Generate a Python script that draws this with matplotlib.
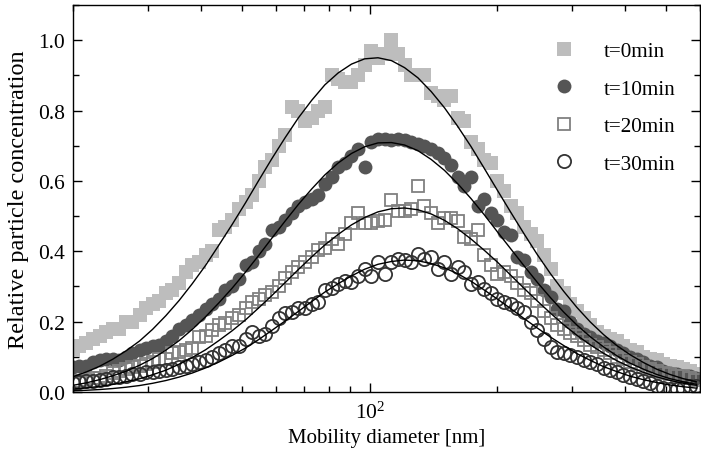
import matplotlib

matplotlib.use("Agg")
import matplotlib.pyplot as plt
from matplotlib.ticker import FormatStrFormatter, LogLocator, MultipleLocator, NullFormatter

# SMPS channel midpoints [nm]
DIAMETER_NM = [
    20.0, 20.7, 21.5, 22.3, 23.1, 23.9, 24.8, 25.7, 26.7, 27.6,
    28.7, 29.7, 30.8, 31.9, 33.1, 34.3, 35.6, 36.9, 38.2, 39.6,
    41.1, 42.6, 44.1, 45.7, 47.4, 49.2, 51.0, 52.8, 54.8, 56.8,
    58.8, 61.0, 63.2, 65.6, 67.9, 70.4, 73.0, 75.7, 78.4, 81.3,
    84.3, 87.4, 90.6, 93.9, 97.3, 100.9, 104.6, 108.4, 112.5, 116.6,
    120.8, 125.3, 129.9, 134.6, 139.6, 144.7, 150.0, 155.5, 161.2, 167.1,
    173.2, 179.6, 186.1, 193.0, 200.0, 207.3, 214.9, 222.8, 230.9, 239.4,
    248.1, 257.2, 266.7, 276.4, 286.5, 297.0, 307.9, 319.2, 330.9, 343.0,
    355.7, 368.6, 382.1, 396.1, 410.6, 425.6, 441.2, 457.4, 474.1, 491.5,
    509.5, 528.2, 547.5, 567.6, 588.4,
]

CONC_T0 = [
    0.12, 0.13, 0.14, 0.15, 0.16, 0.17, 0.18, 0.18, 0.20, 0.20,
    0.22, 0.24, 0.25, 0.26, 0.28, 0.29, 0.31, 0.34, 0.36, 0.37,
    0.39, 0.40, 0.46, 0.47, 0.49, 0.52, 0.54, 0.56, 0.60, 0.64,
    0.66, 0.70, 0.73, 0.81, 0.80, 0.77, 0.78, 0.80, 0.81, 0.90,
    0.89, 0.88, 0.88, 0.90, 0.93, 0.97, 0.95, 0.96, 1.00, 0.96,
    0.93, 0.90, 0.90, 0.90, 0.85, 0.84, 0.83, 0.84, 0.78, 0.77,
    0.71, 0.69, 0.66, 0.65, 0.60, 0.57, 0.53, 0.51, 0.47, 0.45,
    0.43, 0.39, 0.35, 0.30, 0.28, 0.25, 0.23, 0.21, 0.19, 0.17,
    0.16, 0.15, 0.145, 0.13, 0.12, 0.115, 0.10, 0.095, 0.09, 0.08,
    0.075, 0.07, 0.065, 0.06, 0.05,
]

CONC_T10 = [
    0.07, 0.075, 0.075, 0.085, 0.09, 0.095, 0.095, 0.09, 0.10, 0.11,
    0.12, 0.125, 0.13, 0.135, 0.145, 0.16, 0.18, 0.19, 0.205, 0.22,
    0.235, 0.25, 0.265, 0.29, 0.30, 0.32, 0.36, 0.37, 0.40, 0.42,
    0.46, 0.47, 0.49, 0.51, 0.53, 0.54, 0.55, 0.56, 0.59, 0.61,
    0.64, 0.65, 0.67, 0.69, 0.64, 0.71, 0.72, 0.72, 0.715, 0.72,
    0.715, 0.71, 0.705, 0.70, 0.69, 0.68, 0.665, 0.645, 0.61, 0.585,
    0.61, 0.53, 0.55, 0.51, 0.49, 0.455, 0.445, 0.385, 0.375, 0.34,
    0.32, 0.29, 0.27, 0.235, 0.23, 0.20, 0.18, 0.165, 0.155, 0.145,
    0.14, 0.13, 0.12, 0.11, 0.10, 0.095, 0.085, 0.075, 0.07, 0.06,
    0.055, 0.05, 0.045, 0.045, 0.04,
]

CONC_T20 = [
    0.03, 0.03, 0.035, 0.04, 0.04, 0.045, 0.055, 0.06, 0.065, 0.07,
    0.075, 0.08, 0.085, 0.095, 0.095, 0.11, 0.115, 0.12, 0.125, 0.155,
    0.16, 0.175, 0.19, 0.195, 0.21, 0.22, 0.24, 0.255, 0.265, 0.275,
    0.285, 0.30, 0.325, 0.34, 0.355, 0.37, 0.385, 0.405, 0.41, 0.435,
    0.42, 0.45, 0.48, 0.51, 0.48, 0.48, 0.485, 0.49, 0.545, 0.515,
    0.515, 0.52, 0.585, 0.53, 0.51, 0.48, 0.495, 0.495, 0.485, 0.44,
    0.435, 0.46, 0.39, 0.36, 0.335, 0.34, 0.33, 0.31, 0.29, 0.28,
    0.26, 0.23, 0.21, 0.19, 0.178, 0.167, 0.158, 0.148, 0.135, 0.127,
    0.12, 0.11, 0.10, 0.095, 0.085, 0.08, 0.07, 0.065, 0.06, 0.055,
    0.05, 0.045, 0.045, 0.04, 0.035,
]

CONC_T30 = [
    0.025, 0.028, 0.03, 0.031, 0.035, 0.038, 0.042, 0.044, 0.045, 0.05,
    0.052, 0.056, 0.058, 0.06, 0.062, 0.066, 0.07, 0.074, 0.08, 0.085,
    0.09, 0.10, 0.11, 0.118, 0.13, 0.13, 0.15, 0.17, 0.16, 0.165,
    0.188, 0.21, 0.225, 0.228, 0.24, 0.238, 0.25, 0.255, 0.29, 0.295,
    0.307, 0.315, 0.313, 0.33, 0.35, 0.33, 0.37, 0.336, 0.37, 0.378,
    0.375, 0.37, 0.392, 0.378, 0.384, 0.35, 0.37, 0.336, 0.355, 0.341,
    0.307, 0.313, 0.293, 0.28, 0.265, 0.255, 0.25, 0.24, 0.228, 0.20,
    0.175, 0.15, 0.128, 0.114, 0.11, 0.105, 0.10, 0.09, 0.085, 0.08,
    0.068, 0.062, 0.056, 0.048, 0.042, 0.037, 0.03, 0.025, 0.017, 0.012,
    0.009, 0.009, 0.012, 0.017, 0.017,
]

FIT_DIAMETER_NM = [
    20.0, 21.5, 23.09, 24.8, 26.67, 28.7, 30.79, 33.1, 35.56, 38.2,
    41.06, 44.1, 47.41, 51.0, 54.75, 58.8, 63.22, 67.9, 73.0, 78.4,
    84.3, 90.6, 97.3, 104.6, 112.5, 120.8, 129.9, 139.6, 150.0, 161.2,
    173.2, 186.1, 200.0, 214.9, 230.9, 248.1, 266.7, 286.5, 307.9, 330.9,
    355.7, 382.1, 410.6, 441.2, 474.1, 509.5, 547.5, 588.4,
]
FIT_T0 = [
    0.0435, 0.057, 0.073, 0.093, 0.117, 0.145, 0.178, 0.217, 0.260, 0.308,
    0.360, 0.417, 0.476, 0.538, 0.601, 0.663, 0.723, 0.779, 0.829, 0.873,
    0.907, 0.932, 0.947, 0.950, 0.942, 0.922, 0.893, 0.854, 0.808, 0.755,
    0.698, 0.636, 0.573, 0.511, 0.450, 0.391, 0.336, 0.286, 0.240, 0.199,
    0.163, 0.132, 0.106, 0.084, 0.065, 0.050, 0.038, 0.029,
]
FIT_T10 = [
    0.019, 0.026, 0.035, 0.046, 0.059, 0.076, 0.095, 0.119, 0.146, 0.178,
    0.214, 0.253, 0.295, 0.341, 0.388, 0.437, 0.486, 0.533, 0.577, 0.617,
    0.651, 0.678, 0.697, 0.708, 0.709, 0.702, 0.686, 0.661, 0.630, 0.592,
    0.550, 0.504, 0.455, 0.407, 0.359, 0.312, 0.268, 0.227, 0.190, 0.157,
    0.128, 0.103, 0.082, 0.065, 0.050, 0.038, 0.029, 0.022,
]
FIT_T20 = [
    0.0084, 0.0116, 0.016, 0.0215, 0.029, 0.0376, 0.049, 0.062, 0.079, 0.098,
    0.120, 0.146, 0.174, 0.205, 0.239, 0.274, 0.311, 0.348, 0.384, 0.418,
    0.448, 0.475, 0.496, 0.512, 0.521, 0.523, 0.518, 0.506, 0.488, 0.464,
    0.435, 0.403, 0.369, 0.332, 0.295, 0.259, 0.224, 0.191, 0.161, 0.134,
    0.110, 0.089, 0.071, 0.056, 0.043, 0.033, 0.025, 0.019,
]
FIT_T30 = [
    0.0034, 0.0049, 0.007, 0.0098, 0.0136, 0.0184, 0.0247, 0.0326, 0.0424, 0.054,
    0.0684, 0.085, 0.104, 0.125, 0.149, 0.175, 0.202, 0.229, 0.257, 0.284,
    0.308, 0.330, 0.349, 0.363, 0.371, 0.375, 0.373, 0.365, 0.353, 0.336,
    0.315, 0.290, 0.264, 0.237, 0.209, 0.182, 0.156, 0.132, 0.109, 0.090,
    0.072, 0.058, 0.045, 0.035, 0.027, 0.020, 0.015, 0.011,
]

LABELS = ["t=0min", "t=10min", "t=20min", "t=30min"]


def style_axes(ax: plt.Axes) -> None:
    ax.set_xscale("log")
    ax.set_xlim(20, 600)
    ax.set_ylim(0.0, 1.1)
    ax.xaxis.set_major_locator(LogLocator(base=10))
    ax.xaxis.set_minor_locator(LogLocator(base=10, subs=range(2, 10)))
    ax.xaxis.set_minor_formatter(NullFormatter())
    ax.yaxis.set_major_locator(MultipleLocator(0.2))
    ax.yaxis.set_minor_locator(MultipleLocator(0.1))
    ax.yaxis.set_major_formatter(FormatStrFormatter("%.1f"))
    ax.tick_params(which="both", direction="in", top=True, right=True, width=1.0, labelsize=15.5)
    ax.tick_params(which="major", length=6.5)
    ax.tick_params(which="minor", length=4)
    ax.tick_params(axis="x", which="major", pad=7)
    ax.tick_params(axis="y", which="major", pad=6)
    for spine in ax.spines.values():
        spine.set_linewidth(1.0)
    ax.set_xlabel("Mobility diameter [nm]", fontsize=15, labelpad=4)
    ax.set_ylabel("Relative particle concentration", fontsize=17.5, labelpad=6)


def main() -> None:
    plt.rcParams["font.family"] = "Liberation Serif"
    plt.rcParams["mathtext.fontset"] = "stix"

    fig = plt.figure(figsize=(7.01, 4.56), dpi=100)
    ax = fig.add_axes([73 / 701, 63 / 456, 627 / 701, 387 / 456])

    ax.plot(DIAMETER_NM, CONC_T0, linestyle="none", marker="s", ms=9.5,
            mfc="#bdbdbd", mec="#bdbdbd", mew=0, label=LABELS[0])
    ax.plot(DIAMETER_NM, CONC_T10, linestyle="none", marker="o", ms=10,
            mfc="#555555", mec="#555555", mew=0, label=LABELS[1])
    ax.plot(DIAMETER_NM, CONC_T20, linestyle="none", marker="s", ms=8.5,
            mfc="none", mec="#808080", mew=1.3, label=LABELS[2])
    ax.plot(DIAMETER_NM, CONC_T30, linestyle="none", marker="o", ms=9.5,
            mfc="none", mec="#333333", mew=1.3, label=LABELS[3])

    for fit in (FIT_T0, FIT_T10, FIT_T20, FIT_T30):
        ax.plot(FIT_DIAMETER_NM, fit, color="black", lw=1.0)

    style_axes(ax)

    ax.legend(loc="upper left", bbox_to_anchor=(0.753, 0.928), frameon=False,
              fontsize=15.2, handlelength=1.0, handletextpad=1.4,
              labelspacing=0.84, borderpad=0.4, borderaxespad=0)

    fig.savefig("out.png", dpi=100)
    plt.close(fig)


if __name__ == "__main__":
    main()
